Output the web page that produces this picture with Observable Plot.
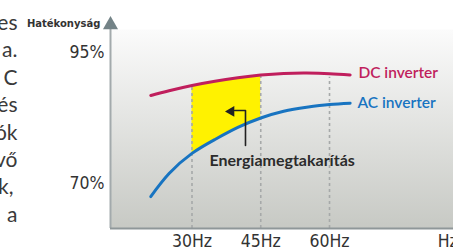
<!DOCTYPE html>
<html>
<head>
<meta charset="utf-8">
<script src="https://cdn.jsdelivr.net/npm/d3@7"></script>
<script src="https://cdn.jsdelivr.net/npm/@observablehq/plot@0.6"></script>
<style>
  html, body { margin: 0; padding: 0; background: #fff; }
  #wrap { position: relative; width: 453px; height: 250px; overflow: hidden; }
  #para { position: absolute; left: 0; top: 8px; width: 17.5px; text-align: right;
          font-family: Lato, "Noto Sans", sans-serif; font-size: 21px; line-height: 27.4px;
          color: #3a3a3a; white-space: nowrap; direction: ltr; }
  #para div { display: flex; justify-content: flex-end; color: #3a3a3a; }
  #para div.short { padding-right: 4px; }
</style>
</head>
<body>
<div id="wrap"></div>
<script>
// ---- data ----
const hz = [21, 25, 30, 35, 40, 45, 50, 55, 60, 64.5];          // frequency (Hz)
const dcValues = [86.8, 87.7, 88.7, 89.52, 90.17, 90.69, 91.0, 91.07, 90.97, 90.72]; // DC inverter efficiency (%)
const acValues = [67.5, 71.9, 75.75, 78.4, 80.7, 82.5, 83.8, 84.55, 85.08, 85.33];   // AC inverter efficiency (%)
const xTicks = [30, 45, 60];
const xTickLabels = ["30Hz", "45Hz", "60Hz"];
const yTicks = [70, 95];
const yTickLabels = ["70%", "95%"];
const dashTops = [88.7, 90.69, 90.3];
const savingRange = [30, 45];
const seriesLabels = ["DC inverter", "AC inverter"];
const seriesColors = ["#c01f5d", "#1874c1"];
const labelHz = [66.3, 66.1];
const labelPct = [91.0, 85.45];
const annotationText = "Energiamegtakarítás";
const annotationAt = {hz: 33.8, pct: 74.4};
const pointerPath = [{hz: 41.67, pct: 77.25}, {hz: 41.67, pct: 83.93}, {hz: 39.3, pct: 83.93}];
const pointerHead = {hz: 38.55, pct: 83.75};
const xDomain = [12.22, 87.05];
const yDomain = [61.4, 99.4];
const yAxisTitle = "Hatékonyság";
const xAxisTitle = "Hz";
const paragraphEnds = ["es", "a.", "C", "és", "ók", "vő", "k,", "a"];

const dc = hz.map((h, i) => ({hz: h, pct: dcValues[i]}));
const ac = hz.map((h, i) => ({hz: h, pct: acValues[i]}));
const band = hz.map((h, i) => ({hz: h, lo: acValues[i], hi: dcValues[i]}));

const narrow = "'Liberation Sans Narrow', 'DejaVu Sans Condensed', 'Arial Narrow', sans-serif";
const geo = "Lato, 'Noto Sans', sans-serif";

const chart = Plot.plot({
  width: 453,
  height: 250,
  marginLeft: 110,
  marginRight: 0,
  marginTop: 29,
  marginBottom: 22,
  x: {domain: xDomain},
  y: {domain: yDomain},
  style: {background: "transparent", overflow: "visible"},
  marks: [
    Plot.frame({fill: "#dddddd", stroke: null}),
    Plot.areaY(band, {x: "hz", y1: "lo", y2: "hi", fill: "#fff200", curve: "natural"}),
    Plot.ruleX(xTicks, {x: d => d, y1: yDomain[0], y2: (d, i) => dashTops[i],
      stroke: "#a6a9a9", strokeWidth: 1.6, strokeDasharray: "3,3"}),
    Plot.line(dc, {x: "hz", y: "pct", stroke: seriesColors[0], strokeWidth: 3, curve: "natural"}),
    Plot.line(ac, {x: "hz", y: "pct", stroke: seriesColors[1], strokeWidth: 3, curve: "natural"}),
    Plot.text(seriesLabels, {x: (d, i) => labelHz[i], y: (d, i) => labelPct[i], text: d => d,
      fill: (d, i) => seriesColors[i], textAnchor: "start", fontSize: 15.5, fontFamily: geo, fontWeight: 600}),
    Plot.line(pointerPath, {x: "hz", y: "pct", stroke: "#222", strokeWidth: 1.6}),
    Plot.dot([pointerHead], {x: "hz", y: "pct", symbol: "triangle", r: 4, rotate: -90, fill: "#222", stroke: null}),
    Plot.text([annotationText], {x: annotationAt.hz, y: annotationAt.pct, text: d => d, textAnchor: "start",
      fontSize: 16, fontWeight: "bold", fontFamily: geo, fill: "#2b2b2b"}),
    // axes
    Plot.ruleX([xDomain[0]], {y1: yDomain[0], y2: yDomain[1], stroke: "#a3aaac", strokeWidth: 2}),
    Plot.ruleY([yDomain[0]], {stroke: "#8f9799", strokeWidth: 2}),
    Plot.dot([0], {x: xDomain[0], y: 100.3, symbol: "triangle", r: 5.6, fill: "#738387", stroke: null}),
    Plot.axisY(yTicks, {tickSize: 0, tickPadding: 6, tickFormat: (d) => yTickLabels[yTicks.indexOf(d)],
      fontSize: 17.5, fontFamily: narrow, fill: "#333", label: null}),
    Plot.axisX(xTicks, {tickSize: 0, tickPadding: 6, tickFormat: (d) => xTickLabels[xTicks.indexOf(d)],
      fontSize: 17.5, fontFamily: narrow, fill: "#333", label: null}),
    Plot.text([xAxisTitle], {x: 83.6, y: yDomain[0], text: d => d, textAnchor: "start", lineAnchor: "top", dy: 6,
      fontSize: 17.5, fontFamily: narrow, fill: "#333"}),
    Plot.text([yAxisTitle], {x: 10.0, y: 100.5, text: d => d, textAnchor: "end",
      fontSize: 10, fontWeight: "bold", fontFamily: "'DejaVu Sans', sans-serif", fill: "#333"})
  ]
});

const svg = d3.select(chart);
const defs = svg.insert("defs", ":first-child");
// vertical gradient background in the frame
const grad = defs.append("linearGradient")
  .attr("id", "bgGrad").attr("x1", 0).attr("y1", 0).attr("x2", 0).attr("y2", 1);
grad.append("stop").attr("offset", "0%").attr("stop-color", "#fbfbfb");
grad.append("stop").attr("offset", "100%").attr("stop-color", "#c7c9c4");
svg.select("g[aria-label=frame]").attr("fill", "url(#bgGrad)");
svg.selectAll("[aria-label=frame] rect, rect[aria-label=frame]").attr("fill", "url(#bgGrad)");
// clip the saving band to the 30–45 Hz range, using the chart's own scales
const xs = chart.scale("x"), ys = chart.scale("y");
const x0 = xs.apply(savingRange[0]), x1 = xs.apply(savingRange[1]);
const yT = ys.apply(yDomain[1]), yB = ys.apply(yDomain[0]);
defs.append("clipPath").attr("id", "bandClip").attr("clipPathUnits", "userSpaceOnUse").append("rect")
  .attr("x", x0).attr("width", x1 - x0).attr("y", yT).attr("height", yB - yT);
svg.selectAll("g[aria-label=area]").attr("clip-path", "url(#bandClip)");

const wrap = document.getElementById("wrap");
wrap.appendChild(chart);
const para = document.createElement("div");
para.id = "para";
paragraphEnds.forEach(t => {
  const d = document.createElement("div");
  d.textContent = t;
  if (t === "k,") d.className = "short";
  para.appendChild(d);
});
wrap.appendChild(para);
</script>
</body>
</html>
